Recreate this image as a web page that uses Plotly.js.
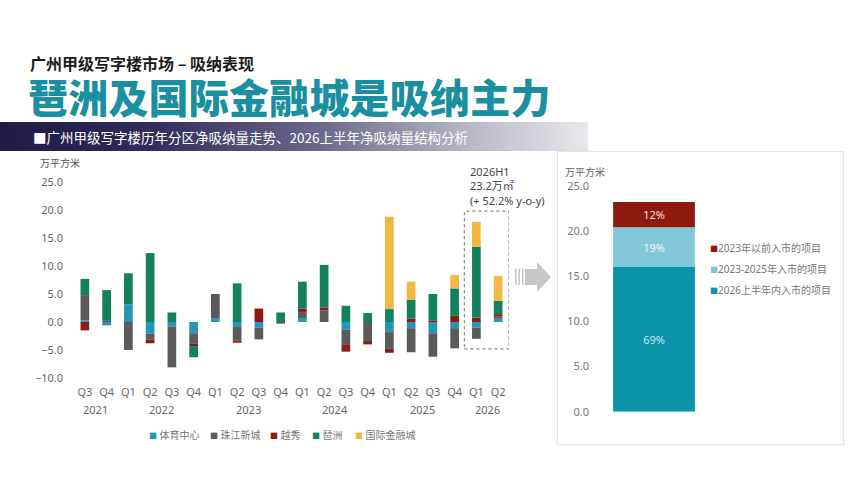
<!DOCTYPE html>
<html>
<head>
<meta charset="utf-8">
<script src="https://cdn.plot.ly/plotly-3.0.1.min.js"></script>
<style>
  body { margin: 0; background: #fff; font-family: "Noto Sans CJK SC", "Noto Sans", sans-serif; }
  #page { position: relative; width: 864px; height: 485px; overflow: hidden; background: #fff; }
  .h1 { position: absolute; left: 30px; top: 53px; font-size: 16px; line-height: 20px; font-weight: 700; color: #1a1a1a; white-space: nowrap; }
  .h2 { position: absolute; left: 28px; top: 76px; font-size: 40px; line-height: 41px; font-weight: 900; color: #1a8fa0; white-space: nowrap; letter-spacing: 0.2px; }
  .band { position: absolute; left: 0; top: 122px; width: 588px; height: 29px;
          background: linear-gradient(90deg, #211a46 0%, #2f2a5a 25%, #6d6a8c 55%, #b9b8c6 80%, #e8e8ec 100%); }
  .band span { position: absolute; left: 33px; top: 5px; font-size: 13.5px; color: #fff; white-space: nowrap; }
  .card { position: absolute; left: 557px; top: 151px; width: 285px; height: 292px;
          border: 1px solid #e3e3e3; box-shadow: 0 0 3px rgba(0,0,0,0.06); }
  #arrow { position: absolute; left: 512px; top: 260px; }
  #chart { position: absolute; left: 0; top: 0; width: 864px; height: 485px; }
</style>
</head>
<body>
<div id="page">
  <div class="h1">广州甲级写字楼市场 – 吸纳表现</div>
  <div class="h2">琶洲及国际金融城是吸纳主力</div>
  <div class="band"><span>■广州甲级写字楼历年分区净吸纳量走势、2026上半年净吸纳量结构分析</span></div>
  <div class="card"></div>
  <svg id="arrow" width="42" height="34">
    <rect x="3" y="9" width="1.5" height="16" fill="#c6c6c6"/>
    <rect x="6.5" y="9" width="1.5" height="16" fill="#c6c6c6"/>
    <rect x="10" y="9" width="1.5" height="16" fill="#c6c6c6"/>
    <rect x="13" y="9" width="13" height="16" fill="#c6c6c6"/>
    <polygon points="25,2 39,17 25,32" fill="#c6c6c6"/>
  </svg>
  <div id="chart"></div>
</div>
<script>
// quarters on the left chart
var quarters = ['Q3','Q4','Q1','Q2','Q3','Q4','Q1','Q2','Q3','Q4','Q1','Q2','Q3','Q4','Q1','Q2','Q3','Q4','Q1','Q2'];
var years    = ['2021','2021','2022','2022','2022','2022','2023','2023','2023','2023',
                '2024','2024','2024','2024','2025','2025','2025','2025','2026','2026'];

// net absorption by district, 万平方米
var tiyu     = [0.3, -0.6, 3.1, -2.1, -0.8, -2.0, 0.7, -0.9, -1.0, 0, 0.7, 0, -1.4, 0, -1.8, -1.1, -2.0, -1.1, -1.0, 0.7];
var zhujiang = [4.5, 0.2, -5.0, -1.0, -7.3, -1.9, 4.3, -2.4, -2.1, -0.3, 1.1, 2.1, -2.7, -3.4, -3.0, -4.3, -4.2, -3.6, -2.0, 0.3];
var yuexiu   = [-1.5, 0, 0, -0.7, 0, -0.4, 0, -0.4, 2.4, 0, 0.6, 0.5, -1.2, -0.6, -0.7, 0.6, 0.3, 1.1, 0.8, 0.4];
var pazhou   = [2.9, 5.5, 5.6, 12.3, 1.7, -2.0, 0, 6.9, 0, 1.7, 4.8, 7.6, 2.9, 1.6, 2.3, 3.4, 4.7, 4.9, 12.6, 2.4];
var ifc      = [0, 0, 0, 0, 0, 0, 0, 0, 0, 0, 0, 0, 0, 0, 16.5, 3.2, 0, 2.4, 4.5, 4.4];

var districts = ['体育中心', '珠江新城', '越秀', '琶洲', '国际金融城'];
var districtColors = ['#2596b8', '#5a5a5a', '#8e1b13', '#13805e', '#f1b843'];
var districtData = [tiyu, zhujiang, yuexiu, pazhou, ifc];

// 2026H1 structure, right chart
var groups = ['2026上半年内入市的项目', '2023-2025年入市的项目', '2023年以前入市的项目'];
var groupValues = [16.0, 4.4, 2.8];
var groupPct = ['69%', '19%', '12%'];
var groupColors = ['#0b93aa', '#82c8d8', '#8e1b12'];
var groupTextColors = ['#bdeaf3', '#eef8fb', '#f6dcd8'];

var idx = quarters.map(function(q, i){ return i; });
var W = 864, H = 485;
function px(x){ return x / W; }
function py(y){ return 1 - y / H; }

var data = [];
districts.forEach(function(name, i){
    data.push({
        type: 'bar', x: idx, y: districtData[i], name: name,
        marker: {color: districtColors[i]},
        xaxis: 'x', yaxis: 'y', hoverinfo: 'skip'
    });
});
groups.forEach(function(name, i){
    data.push({
        type: 'bar', x: [0], y: [groupValues[i]], name: name, width: [0.757],
        text: [groupPct[i]], textposition: 'inside', insidetextanchor: 'middle',
        textfont: {size: 11, color: groupTextColors[i]},
        marker: {color: groupColors[i]},
        xaxis: 'x2', yaxis: 'y2', hoverinfo: 'skip'
    });
});

var annotations = [];
// year labels under quarter ticks
var seen = {};
years.forEach(function(y, i){
    if (!seen[y]) seen[y] = [];
    seen[y].push(i);
});
Object.keys(seen).forEach(function(y){
    var list = seen[y];
    var mid = (list[0] + list[list.length - 1]) / 2;
    annotations.push({x: mid, xref: 'x', y: py(409), yref: 'paper', yanchor: 'middle',
        text: y, showarrow: false, font: {size: 11, color: '#666'}});
});
// unit labels
annotations.push({x: px(38), y: py(163), xref: 'paper', yref: 'paper', xanchor: 'left', yanchor: 'middle',
    text: '万平方米', showarrow: false, font: {size: 10, color: '#555'}});
annotations.push({x: px(563), y: py(172), xref: 'paper', yref: 'paper', xanchor: 'left', yanchor: 'middle',
    text: '万平方米', showarrow: false, font: {size: 10, color: '#666'}});
// 2026H1 callout
annotations.push({x: 17.6, xref: 'x', y: 20.0, yref: 'y', xanchor: 'left', yanchor: 'bottom', align: 'left',
    text: '2026H1<br>23.2万㎡<br>(+ 52.2% y-o-y)', showarrow: false, font: {size: 11, color: '#444'}});
// bottom legend
var legX = [147, 208, 268, 310, 353];
districts.forEach(function(name, i){
    annotations.push({x: px(legX[i]), y: py(435), xref: 'paper', yref: 'paper', xanchor: 'left', yanchor: 'middle',
        text: '<span style="color:' + districtColors[i] + ';font-size:8px">■</span> ' + name,
        showarrow: false, font: {size: 10, color: '#777'}});
});
// right legend, top to bottom
var legY = [248, 269, 290];
for (var k = 0; k < 3; k++) {
    var gi = 2 - k;
    annotations.push({x: px(708), y: py(legY[k]), xref: 'paper', yref: 'paper', xanchor: 'left', yanchor: 'middle',
        text: '<span style="color:' + groupColors[gi] + ';font-size:8px">■</span>' + groups[gi],
        showarrow: false, font: {size: 10, color: '#777'}});
}

var layout = {
    width: W, height: H,
    margin: {l: 0, r: 0, t: 0, b: 0},
    paper_bgcolor: 'rgba(0,0,0,0)', plot_bgcolor: 'rgba(0,0,0,0)',
    font: {family: 'Noto Sans, Noto Sans CJK SC, sans-serif', color: '#666'},
    barmode: 'relative', bargap: 0.6, showlegend: false,
    xaxis: {domain: [px(74), px(509)], range: [-0.5, 19.5], tickvals: idx, ticktext: quarters,
        showgrid: false, zeroline: false, showline: false, ticks: '', ticklabelstandoff: 6,
        tickfont: {size: 11, color: '#666'}, fixedrange: true},
    yaxis: {domain: [py(378), py(182)], range: [-10, 25], dtick: 5, tick0: 0, tickformat: '.1f',
        showgrid: false, zeroline: false, showline: false, ticks: '', ticklabelstandoff: 10,
        tickfont: {size: 11, color: '#666'}, fixedrange: true},
    xaxis2: {domain: [px(600), px(708)], range: [-0.5, 0.5], anchor: 'y2', visible: false, fixedrange: true},
    yaxis2: {domain: [py(411.7), py(185.7)], range: [0, 25], dtick: 5, tick0: 0, tickformat: '.1f', anchor: 'x2',
        showgrid: false, zeroline: false, showline: false, ticks: '', ticklabelstandoff: 10,
        tickfont: {size: 11, color: '#777'}, fixedrange: true},
    shapes: [{type: 'rect', xref: 'x', yref: 'y', x0: 17.45, x1: 19.5, y0: -4.8, y1: 19.8,
        line: {color: '#888', width: 1.3, dash: 'dot'}}],
    annotations: annotations
};

Plotly.newPlot('chart', data, layout, {displayModeBar: false, staticPlot: true});
</script>
</body>
</html>
